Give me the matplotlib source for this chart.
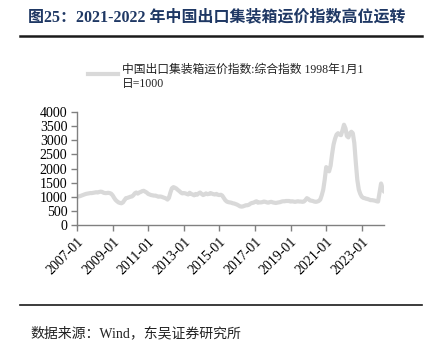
import matplotlib
matplotlib.use("Agg")
import matplotlib.pyplot as plt
from matplotlib.lines import Line2D
import numpy as np
import pandas as pd

plt.rcParams['font.family'] = ['Liberation Serif', 'Noto Sans CJK SC']

# CCFI composite index, monthly, 2007-01 .. 2024-04
ccfi_2007 = [1000, 1010, 1020, 1040, 1060, 1080, 1100, 1110, 1120, 1130, 1130, 1140]
ccfi_2008 = [1150, 1160, 1150, 1170, 1180, 1170, 1140, 1130, 1130, 1140, 1130, 1110]
ccfi_2009 = [1050, 960, 890, 840, 800, 780, 770, 800, 880, 950, 960, 980]
ccfi_2010 = [1000, 1010, 1050, 1120, 1150, 1110, 1150, 1170, 1200, 1210, 1180, 1150]
ccfi_2011 = [1100, 1080, 1060, 1050, 1040, 1040, 1020, 1000, 1010, 1000, 980, 960]
ccfi_2012 = [940, 900, 960, 1150, 1300, 1340, 1320, 1290, 1240, 1200, 1150, 1120]
ccfi_2013 = [1130, 1120, 1100, 1080, 1140, 1100, 1080, 1050, 1100, 1070, 1120, 1150]
ccfi_2014 = [1100, 1060, 1080, 1120, 1090, 1100, 1130, 1110, 1090, 1080, 1100, 1070]
ccfi_2015 = [1060, 1070, 1040, 960, 880, 830, 810, 800, 790, 770, 760, 740]
ccfi_2016 = [720, 690, 660, 650, 660, 680, 700, 700, 720, 760, 780, 790]
ccfi_2017 = [820, 840, 790, 800, 800, 810, 830, 820, 800, 790, 810, 820]
ccfi_2018 = [800, 790, 780, 790, 800, 810, 830, 840, 840, 850, 850, 850]
ccfi_2019 = [830, 840, 830, 820, 830, 840, 830, 830, 820, 830, 880, 950]
ccfi_2020 = [920, 870, 860, 850, 830, 820, 830, 850, 900, 1050, 1250, 1600]
ccfi_2021 = [2050, 1950, 1900, 2100, 2500, 2850, 3050, 3200, 3250, 3200, 3180, 3350]
ccfi_2022 = [3550, 3420, 3150, 3100, 3250, 3300, 3250, 2900, 2200, 1600, 1250, 1100]
ccfi_2023 = [1000, 960, 950, 930, 920, 900, 880, 880, 870, 860, 840, 830]
ccfi_2024 = [1150, 1470, 1300, 1180]

values = (ccfi_2007 + ccfi_2008 + ccfi_2009 + ccfi_2010 + ccfi_2011 + ccfi_2012
          + ccfi_2013 + ccfi_2014 + ccfi_2015 + ccfi_2016 + ccfi_2017 + ccfi_2018
          + ccfi_2019 + ccfi_2020 + ccfi_2021 + ccfi_2022 + ccfi_2023 + ccfi_2024)
dates = pd.date_range('2007-01-01', periods=len(values), freq='MS')

x_ticks = ['2007-01', '2009-01', '2011-01', '2013-01', '2015-01',
           '2017-01', '2019-01', '2021-01', '2023-01']
y_ticks = [0, 500, 1000, 1500, 2000, 2500, 3000, 3500, 4000]

title = '图25：2021-2022 年中国出口集装箱运价指数高位运转'
legend_text = '中国出口集装箱运价指数:综合指数 1998年1月1\n日=1000'
source = '数据来源：Wind，东吴证券研究所'

W, H = 433, 345
fig = plt.figure(figsize=(W / 100, H / 100), dpi=100)
ax = fig.add_axes([77 / W, 1 - 225 / H, (384 - 77) / W, (225 - 112) / H])

ax.plot(dates, values, color='#d9d9d9', lw=3, solid_capstyle='round')
ax.set_xlim(dates[0], dates[-1])
ax.set_ylim(0, 4000)
ax.set_yticks(y_ticks)
ax.set_xticks(pd.to_datetime(x_ticks))
ax.set_xticklabels(x_ticks)

for s in ['top', 'right']:
    ax.spines[s].set_visible(False)
for s in ['left', 'bottom']:
    ax.spines[s].set_color('#808080')
    ax.spines[s].set_linewidth(1)
ax.tick_params(axis='both', colors='#808080', labelcolor='black', labelsize=10,
               length=4, width=1, direction='out')
ax.tick_params(axis='y', pad=3)
for lbl in ax.get_xticklabels():
    lbl.set_rotation(45)
    lbl.set_ha('right')
    lbl.set_rotation_mode('anchor')

# legend drawn by hand so the swatch sits on the first line
fig.add_artist(Line2D([88 / W, 118 / W], [1 - 74 / H] * 2, color='#d9d9d9', lw=3))
fig.text(122 / W, 1 - 74 / H, legend_text, fontsize=8.5, ha='left',
         va='center_baseline', color='#222222', linespacing=1.25)

# header and footer
fig.text(0.5, 1 - 17 / H, title, fontsize=11.5, fontweight='bold',
         color='#1f3864', ha='center', va='center')
fig.add_artist(Line2D([20 / W, 422 / W], [1 - 36 / H] * 2, color='#1a1a1a', lw=1.8))
fig.add_artist(Line2D([20 / W, 422 / W], [1 - 305 / H] * 2, color='#1a1a1a', lw=1.2))
fig.text(30 / W, 1 - 333 / H, source, fontsize=10, color='#222222', ha='left', va='center')

fig.savefig('out.png', dpi=100)
